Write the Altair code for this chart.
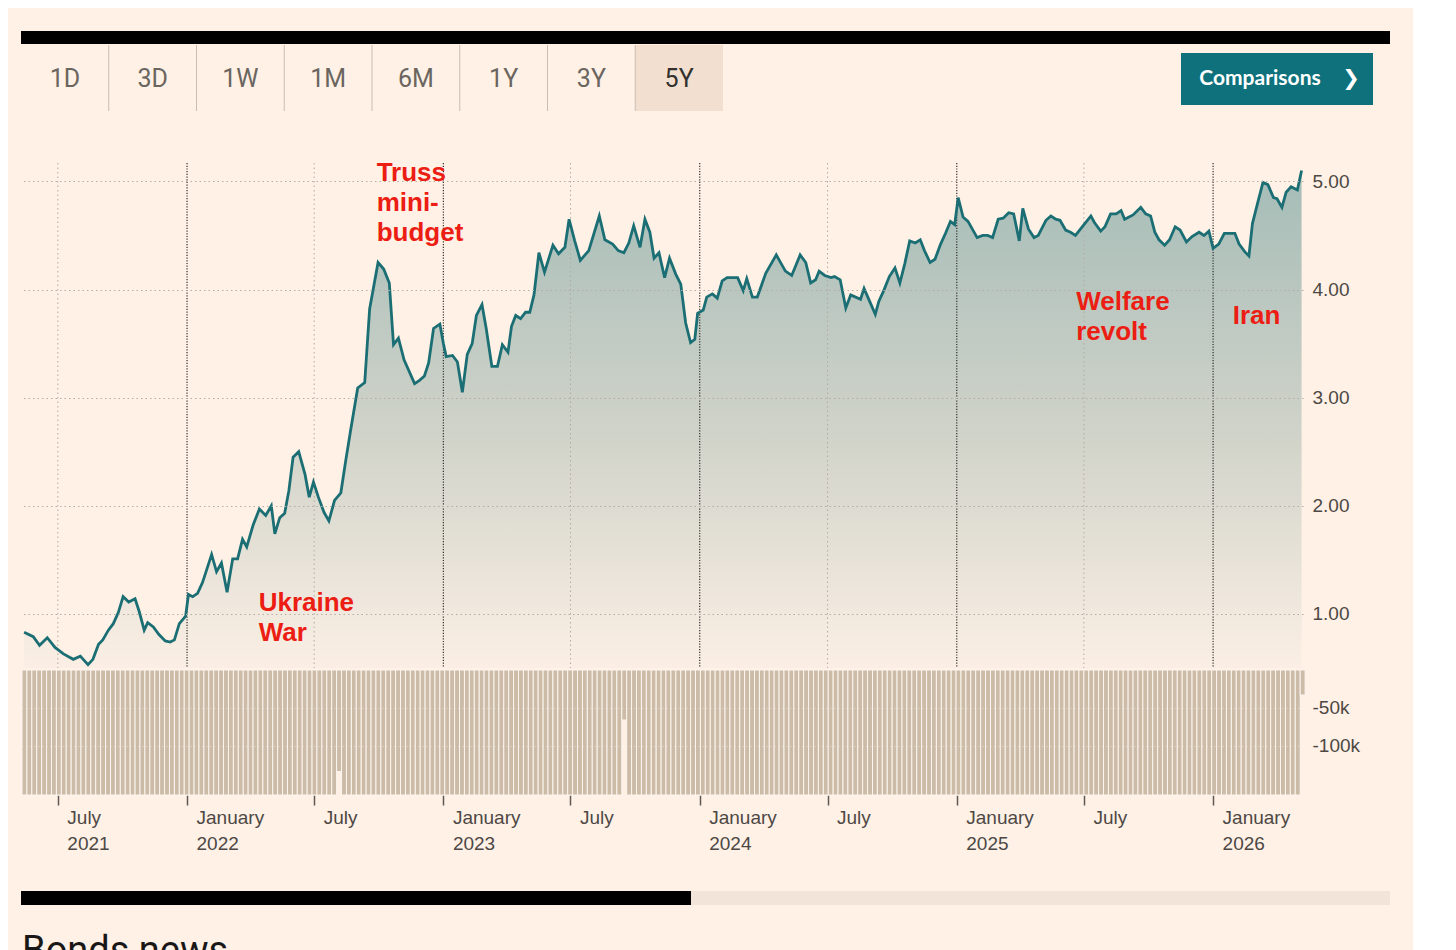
import altair as alt
import pandas as pd

BG = "#fff1e5"
TEAL = "#1b6f74"
RED = "#ec1d13"
TAN = "#cbbba7"
AXIS_TXT = "#4d4845"
FONT = "Liberation Sans"

# ---------------- price series (yield, %) ----------------
dates_2021 = [
    "2021-05-14", "2021-05-27",
    "2021-06-05", "2021-06-16", "2021-06-27",
    "2021-07-09", "2021-07-23",
    "2021-08-02", "2021-08-13", "2021-08-20", "2021-08-28",
    "2021-09-03", "2021-09-11", "2021-09-18", "2021-09-25",
    "2021-10-02", "2021-10-10", "2021-10-19", "2021-10-25",
    "2021-11-01", "2021-11-06", "2021-11-14", "2021-11-22",
    "2021-12-01", "2021-12-08", "2021-12-14", "2021-12-21", "2021-12-30",
]
yields_2021 = [
    0.83, 0.79,
    0.71, 0.78, 0.69,
    0.63, 0.58,
    0.61, 0.53, 0.58, 0.72,
    0.76, 0.85, 0.91, 1.01,
    1.16, 1.11, 1.14, 1.02,
    0.85, 0.92, 0.88, 0.81,
    0.75, 0.74, 0.76, 0.91, 0.98,
]
dates_2022 = [
    "2022-01-03", "2022-01-09", "2022-01-16", "2022-01-23", "2022-01-29",
    "2022-02-05", "2022-02-12", "2022-02-19", "2022-02-27",
    "2022-03-07", "2022-03-14", "2022-03-21", "2022-03-27",
    "2022-04-05", "2022-04-14", "2022-04-23",
    "2022-05-01", "2022-05-06", "2022-05-13", "2022-05-20", "2022-05-26",
    "2022-06-01", "2022-06-09", "2022-06-18", "2022-06-24", "2022-06-30",
    "2022-07-07", "2022-07-15", "2022-07-22", "2022-07-30",
    "2022-08-08", "2022-08-15", "2022-08-22",
    "2022-09-01", "2022-09-11", "2022-09-18", "2022-09-30",
    "2022-10-08", "2022-10-16", "2022-10-22", "2022-10-29",
    "2022-11-06", "2022-11-21", "2022-11-28",
    "2022-12-05", "2022-12-11", "2022-12-18", "2022-12-27",
]
yields_2022 = [
    1.18, 1.16, 1.19, 1.29, 1.41,
    1.55, 1.39, 1.47, 1.20,
    1.51, 1.51, 1.69, 1.62,
    1.82, 1.97, 1.91,
    2.00, 1.74, 1.89, 1.93, 2.14,
    2.45, 2.50, 2.29, 2.08, 2.22,
    2.08, 1.94, 1.86, 2.05,
    2.12, 2.42, 2.70,
    3.09, 3.14, 3.82, 4.25,
    4.19, 4.06, 3.49, 3.55,
    3.35, 3.13, 3.16,
    3.20, 3.32, 3.64, 3.68,
]
dates_2023 = [
    "2023-01-01", "2023-01-05", "2023-01-14", "2023-01-21", "2023-01-28",
    "2023-02-04", "2023-02-11", "2023-02-17", "2023-02-25",
    "2023-03-03", "2023-03-11", "2023-03-19", "2023-03-26",
    "2023-04-03", "2023-04-08", "2023-04-14", "2023-04-21", "2023-04-28",
    "2023-05-04", "2023-05-10", "2023-05-17", "2023-05-25",
    "2023-06-06", "2023-06-14", "2023-06-23", "2023-06-29",
    "2023-07-07", "2023-07-15", "2023-07-27",
    "2023-08-11", "2023-08-19", "2023-08-30",
    "2023-09-07", "2023-09-15", "2023-09-22", "2023-09-29",
    "2023-10-08", "2023-10-15", "2023-10-22", "2023-10-28",
    "2023-11-04", "2023-11-12", "2023-11-19", "2023-11-28",
    "2023-12-05", "2023-12-12", "2023-12-19", "2023-12-25", "2023-12-29",
]
yields_2023 = [
    3.50, 3.38, 3.39, 3.33, 3.05,
    3.40, 3.50, 3.76, 3.86,
    3.64, 3.29, 3.29, 3.49,
    3.42, 3.66, 3.76, 3.73, 3.79,
    3.79, 3.95, 4.34, 4.16,
    4.41, 4.33, 4.39, 4.65,
    4.45, 4.27, 4.36,
    4.68, 4.46, 4.42,
    4.36, 4.34, 4.43, 4.59,
    4.39, 4.65, 4.53, 4.29,
    4.34, 4.11, 4.29, 4.14,
    4.05, 3.69, 3.51, 3.54, 3.78,
]
dates_2024 = [
    "2024-01-06", "2024-01-11", "2024-01-19", "2024-01-26",
    "2024-02-02", "2024-02-09", "2024-02-24",
    "2024-03-03", "2024-03-08", "2024-03-16", "2024-03-23",
    "2024-04-04", "2024-04-19",
    "2024-05-02", "2024-05-11", "2024-05-23", "2024-05-31",
    "2024-06-07", "2024-06-14", "2024-06-19", "2024-06-27",
    "2024-07-06", "2024-07-11", "2024-07-19", "2024-07-27",
    "2024-08-03", "2024-08-17", "2024-08-22", "2024-08-30",
    "2024-09-07", "2024-09-12", "2024-09-19", "2024-09-27",
    "2024-10-05", "2024-10-12", "2024-10-19", "2024-10-26",
    "2024-11-03", "2024-11-10", "2024-11-16", "2024-11-24",
    "2024-12-01", "2024-12-09", "2024-12-16", "2024-12-23", "2024-12-29",
]
yields_2024 = [
    3.81, 3.93, 3.96, 3.92,
    4.08, 4.11, 4.11,
    3.99, 4.10, 3.93, 3.93,
    4.15, 4.32,
    4.17, 4.13, 4.32, 4.25,
    4.06, 4.09, 4.17, 4.13,
    4.11, 4.12, 4.09, 3.83,
    3.95, 3.91, 4.01, 3.89,
    3.77, 3.89, 3.99, 4.12,
    4.20, 4.06, 4.24, 4.45,
    4.43, 4.46, 4.36, 4.25,
    4.28, 4.42, 4.52, 4.63, 4.60,
]
dates_2025 = [
    "2025-01-03", "2025-01-10", "2025-01-17", "2025-01-30",
    "2025-02-07", "2025-02-14", "2025-02-21",
    "2025-03-01", "2025-03-08", "2025-03-16", "2025-03-23", "2025-03-31",
    "2025-04-05", "2025-04-13", "2025-04-21", "2025-04-27",
    "2025-05-08", "2025-05-15", "2025-05-22", "2025-05-28",
    "2025-06-05", "2025-06-12", "2025-06-19", "2025-06-30",
    "2025-07-11", "2025-07-16", "2025-07-25", "2025-07-31",
    "2025-08-08", "2025-08-16", "2025-08-23", "2025-08-28",
    "2025-09-09", "2025-09-20", "2025-09-27",
    "2025-10-04", "2025-10-10", "2025-10-16", "2025-10-24", "2025-10-31",
    "2025-11-08", "2025-11-15", "2025-11-24",
    "2025-12-02", "2025-12-12", "2025-12-19", "2025-12-26",
]
yields_2025 = [
    4.85, 4.67, 4.63, 4.48,
    4.50, 4.50, 4.48,
    4.65, 4.66, 4.71, 4.70, 4.45,
    4.75, 4.56, 4.48, 4.50,
    4.64, 4.68, 4.65, 4.64,
    4.55, 4.53, 4.50, 4.59,
    4.68, 4.62, 4.54, 4.58,
    4.70, 4.70, 4.73, 4.65,
    4.69, 4.76, 4.70,
    4.68, 4.53, 4.46, 4.41, 4.46,
    4.58, 4.55, 4.44,
    4.49, 4.53, 4.50, 4.54,
]
dates_2026 = [
    "2026-01-01", "2026-01-09", "2026-01-17",
    "2026-02-01", "2026-02-07", "2026-02-15", "2026-02-21", "2026-02-26",
    "2026-03-05", "2026-03-13", "2026-03-20", "2026-03-28",
    "2026-04-02", "2026-04-09", "2026-04-15", "2026-04-22",
    "2026-05-01", "2026-05-07",
]
yields_2026 = [
    4.38, 4.42, 4.52,
    4.52, 4.42, 4.35, 4.31, 4.61,
    4.79, 4.99, 4.97, 4.85,
    4.84, 4.76, 4.90, 4.95,
    4.92, 5.10,
]

price = pd.DataFrame({
    "date": dates_2021 + dates_2022 + dates_2023 + dates_2024 + dates_2025 + dates_2026,
    "v": yields_2021 + yields_2022 + yields_2023 + yields_2024 + yields_2025 + yields_2026,
})

# ---------------- weekly volume (thousands, drawn downward) ----------------
volume_k = [
    -165, -165, -165, -165, -165, -165, -165, -165, -165, -165, -165, -165, -165, -165, -165, -165, -165, -165, -165, -165,
    -165, -165, -165, -165, -165, -165, -165, -165, -165, -165, -165, -165, -165, -165, -165, -165, -165, -165, -165, -165,
    -165, -165, -165, -165, -165, -165, -165, -165, -165, -165, -165, -165, -165, -165, -165, -165, -165, -165, -165, -165,
    -165, -165, -165, -165, -134, -165, -165, -165, -165, -165, -165, -165, -165, -165, -165, -165, -165, -165, -165, -165,
    -165, -165, -165, -165, -165, -165, -165, -165, -165, -165, -165, -165, -165, -165, -165, -165, -165, -165, -165, -165,
    -165, -165, -165, -165, -165, -165, -165, -165, -165, -165, -165, -165, -165, -165, -165, -165, -165, -165, -165, -165,
    -165, -165, -66, -165, -165, -165, -165, -165, -165, -165, -165, -165, -165, -165, -165, -165, -165, -165, -165, -165,
    -165, -165, -165, -165, -165, -165, -165, -165, -165, -165, -165, -165, -165, -165, -165, -165, -165, -165, -165, -165,
    -165, -165, -165, -165, -165, -165, -165, -165, -165, -165, -165, -165, -165, -165, -165, -165, -165, -165, -165, -165,
    -165, -165, -165, -165, -165, -165, -165, -165, -165, -165, -165, -165, -165, -165, -165, -165, -165, -165, -165, -165,
    -165, -165, -165, -165, -165, -165, -165, -165, -165, -165, -165, -165, -165, -165, -165, -165, -165, -165, -165, -165,
    -165, -165, -165, -165, -165, -165, -165, -165, -165, -165, -165, -165, -165, -165, -165, -165, -165, -165, -165, -165,
    -165, -165, -165, -165, -165, -165, -165, -165, -165, -165, -165, -165, -165, -165, -165, -165, -165, -165, -165, -165,
    -33,
]
week_start = pd.date_range("2021-05-11", periods=len(volume_k), freq="7D")
vol = pd.DataFrame({
    "start": week_start.strftime("%Y-%m-%d"),
    "end": (week_start + pd.Timedelta(days=7)).strftime("%Y-%m-%d"),
    "vol": volume_k,
})

# ---------------- axis ticks / labels ----------------
tick_dates = ["2021-07-01", "2022-01-01", "2022-07-01", "2023-01-01", "2023-07-01",
              "2024-01-01", "2024-07-01", "2025-01-01", "2025-07-01", "2026-01-01"]
jan_ticks = pd.DataFrame({"d": [s for s in tick_dates if s[5:7] == "01"]})
jul_ticks = pd.DataFrame({"d": [s for s in tick_dates if s[5:7] == "07"]})
yield_ticks = [1, 2, 3, 4, 5]
volume_ticks = [-50, -100]

notes = pd.DataFrame({
    "label": ["Truss\nmini-\nbudget", "Ukraine\nWar", "Welfare\nrevolt", "Iran"],
    "d": ["2022-09-28", "2022-04-13", "2025-06-20", "2026-01-29"],
    "v": [5.00, 1.03, 3.815, 3.68],
})

buttons = ["1D", "3D", "1W", "1M", "6M", "1Y", "3Y", "5Y"]
selected = "5Y"
btn = pd.DataFrame({"label": buttons, "i": list(range(len(buttons)))})
one = pd.DataFrame({"k": [0]})

# ---------------- scales & axes ----------------
def dt(s):
    return alt.DateTime(year=int(s[:4]), month=int(s[5:7]), date=int(s[8:10]), utc=True)

x_scale = alt.Scale(domain=[dt("2021-05-11"), dt("2026-05-09")])
x_axis = alt.Axis(
    values=[dt(s) for s in tick_dates], title=None, orient="bottom",
    domain=False, grid=False, ticks=True, tickSize=10, tickColor="#5f5955", tickWidth=1.5,
    labelExpr="(utcmonth(datum.value) == 0 || datum.index == 0) ? "
              "[utcmonth(datum.value) == 0 ? 'January' : 'July', utcFormat(datum.value, '%Y')] : 'July'",
    labelAlign="left", labelBaseline="top", labelOffset=9, labelPadding=3,
    labelFont=FONT, labelFontSize=19, labelColor=AXIS_TXT, labelLineHeight=26,
    labelOverlap=False, labelFlush=False,
)

def X(field):
    return alt.X(f"{field}:T", scale=x_scale, axis=x_axis)

y_scale = alt.Scale(domain=[0.5, 5.17], range=[505, 0], zero=False, nice=False)
y_axis = alt.Axis(
    orient="right", values=yield_ticks, format=".2f", title=None, domain=False, ticks=False,
    labelPadding=9, labelFont=FONT, labelFontSize=19, labelColor=AXIS_TXT,
    grid=True, gridColor="#b5ada5", gridDash=[1.5, 3], gridWidth=1, zindex=1,
)

def Y(field):
    return alt.Y(f"{field}:Q", scale=y_scale, axis=y_axis)

vol_scale = alt.Scale(domain=[-165, 0], range=[632, 507], nice=False)
vol_axis = alt.Axis(
    orient="right", values=volume_ticks, labelExpr="datum.value + 'k'", title=None,
    domain=False, ticks=False, labelPadding=9, labelFont=FONT, labelFontSize=19,
    labelColor=AXIS_TXT, grid=True, gridColor="#ffffff", gridOpacity=0.35,
    gridDash=[1.5, 2.5], zindex=1,
)

# ---------------- price panel ----------------
area = alt.Chart(price).mark_area(
    color=alt.Gradient(
        gradient="linear",
        stops=[alt.GradientStop(color="#a5bcb7", offset=0),
               alt.GradientStop(color="#d2d4ca", offset=0.55),
               alt.GradientStop(color="#fbefe5", offset=1)],
        x1=1, x2=1, y1=0, y2=1,
    )
).encode(x=X("date"), y=Y("v"), y2=alt.datum(0.5))

jul_rules = alt.Chart(jul_ticks).mark_rule(color="#b3aaa2", strokeDash=[1.5, 3], strokeWidth=1).encode(
    x=X("d"), y=alt.value(0), y2=alt.value(505))
jan_rules = alt.Chart(jan_ticks).mark_rule(color="#33302e", strokeDash=[1.2, 1.5], strokeWidth=1.2).encode(
    x=X("d"), y=alt.value(0), y2=alt.value(505))

line = alt.Chart(price).mark_line(color=TEAL, strokeWidth=2.8).encode(x=X("date"), y=Y("v"))

note_txt = alt.Chart(notes).mark_text(
    align="left", baseline="alphabetic", font=FONT, fontSize=26, fontWeight="bold",
    color=RED, lineBreak="\n", lineHeight=30,
).encode(x=X("d"), y=Y("v"), text="label:N")

price_layer = alt.layer(area, jul_rules, jan_rules, line, note_txt)

# ---------------- volume panel ----------------
bars = alt.Chart(vol).mark_rect(color=TAN, stroke="#fcf5ef", strokeWidth=1).encode(
    x=X("start"), x2="end:T",
    y=alt.Y("vol:Q", scale=vol_scale, axis=vol_axis),
    y2=alt.datum(0),
)

data_layer = alt.layer(price_layer, bars).resolve_scale(y="independent")

# ---------------- header (range buttons) ----------------
def BX(field):
    return alt.X(f"{field}:Q", scale=alt.Scale(domain=[0, 8], range=[-1, 701], nice=False, zero=False), axis=None)

top_bar = alt.Chart(one).mark_rect(color="#000000").encode(
    x=alt.value(-1), x2=alt.value(1368), y=alt.value(-132), y2=alt.value(-119))
sel_rect = alt.Chart(btn).transform_filter(f"datum.label == '{selected}'").transform_calculate(
    i2="datum.i + 1").mark_rect(color="#f2dfcf").encode(
    x=BX("i"), x2="i2:Q", y=alt.value(-118), y2=alt.value(-52))
seps = alt.Chart(btn).transform_filter("datum.i > 0").mark_rule(color="#c9beb4", strokeWidth=1).encode(
    x=BX("i"), y=alt.value(-118), y2=alt.value(-52))
btn_txt = alt.Chart(btn).transform_calculate(mid="datum.i + 0.5").mark_text(
    font="Roboto", fontSize=25, align="center", baseline="middle").encode(
    x=BX("mid"), y=alt.value(-84), text="label:N",
    color=alt.condition(f"datum.label == '{selected}'", alt.value("#33302e"), alt.value("#6b6560")))
header_btns = alt.layer(sel_rect, seps, btn_txt)

comp_rect = alt.Chart(one).mark_rect(color="#0e717b").encode(
    x=alt.value(1159), x2=alt.value(1351), y=alt.value(-110), y2=alt.value(-58))
comp_txt = alt.Chart(one).mark_text(
    text="Comparisons", font="Lato", fontWeight="bold", fontSize=21, color="#ffffff",
    align="center", baseline="middle").encode(x=alt.value(1238), y=alt.value(-84))
comp_chev = alt.Chart(one).mark_text(
    text="❯", font="DejaVu Sans", fontWeight="bold", fontSize=21, color="#ffffff",
    align="center", baseline="middle").encode(x=alt.value(1329), y=alt.value(-84))

# ---------------- footer ----------------
foot_black = alt.Chart(one).mark_rect(color="#000000").encode(
    x=alt.value(-1), x2=alt.value(669), y=alt.value(728), y2=alt.value(742))
foot_light = alt.Chart(one).mark_rect(color="#f2e4d8").encode(
    x=alt.value(669), x2=alt.value(1368), y=alt.value(728), y2=alt.value(742))
bonds_txt = alt.Chart(one).mark_text(
    text="Bonds news", font="Roboto", fontSize=38, color="#1a1817",
    align="left", baseline="alphabetic").encode(x=alt.value(0), y=alt.value(800))

chart = alt.layer(
    top_bar, header_btns, comp_rect, comp_txt, comp_chev,
    data_layer,
    foot_black, foot_light, bonds_txt,
).resolve_scale(x="independent", y="independent").properties(
    width=1281, height=632,
    autosize=alt.AutoSizeParams(type="none"),
    padding={"left": 14, "top": 155, "right": 110, "bottom": 180},
).configure(background=BG).configure_view(stroke=None)

chart.save("out.html", embed_options={"renderer": "svg", "actions": False})
